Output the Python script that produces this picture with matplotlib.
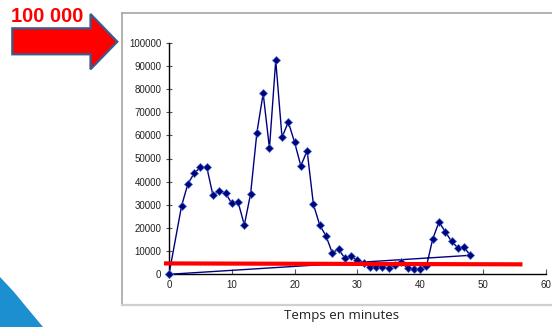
import matplotlib
matplotlib.use("Agg")
import matplotlib.pyplot as plt
from matplotlib.patches import Polygon

# Data
minutes = [0, 2, 3, 4, 5, 6, 7, 8, 9, 10, 11, 12, 13, 14, 15, 16, 17, 18, 19, 20,
           21, 22, 23, 24, 25, 26, 27, 28, 29, 30, 31, 32, 33, 34, 35, 36, 37, 38,
           39, 40, 41, 42, 43, 44, 45, 46, 47, 48, 0]
counts = [0, 29500, 39000, 43600, 46200, 46500, 34100, 36100, 35100, 30600, 31200,
          21300, 34800, 61200, 78100, 54400, 92400, 59100, 65800, 57000, 46800,
          53400, 30200, 21300, 16600, 9300, 10800, 7000, 7800, 6000, 4700, 3300,
          3300, 3000, 2900, 3900, 5200, 2600, 2100, 2100, 3400, 15200, 22600, 18400,
          14200, 11500, 11600, 8200, 0]
threshold_x = [-0.8, 56.3]
threshold_y = [4700, 4300]
y_ticks = [0, 10000, 20000, 30000, 40000, 50000, 60000, 70000, 80000, 90000, 100000]
x_ticks = [0, 10, 20, 30, 40, 50, 60]
x_label = "Temps en minutes"
callout = "100 000"

W, H = 552, 327
fig = plt.figure(figsize=(W / 100, H / 100), dpi=100)

def fx(px):
    return px / W

def fy(py):
    return 1 - py / H

# chart area border (top, left, bottom)
fig.add_artist(plt.Line2D([fx(122.5), fx(552)], [fy(13.3), fy(13.3)], color="#a6a6a6", lw=1.2))
fig.add_artist(plt.Line2D([fx(122.5), fx(122.5)], [fy(13.3), fy(305)], color="#a6a6a6", lw=1.2))
fig.add_artist(plt.Line2D([fx(122.5), fx(552)], [fy(305), fy(305)], color="#cfcfcf", lw=1.6))

# blue decoration bottom-left
fig.add_artist(Polygon([(fx(0), fy(277)), (fx(14), fy(292)), (fx(28), fy(309)),
                        (fx(43), fy(327)), (fx(0), fy(327))], closed=True,
                       facecolor="#1b8fd0", edgecolor="none", transform=fig.transFigure))

left, right = 169, 545.7
bottom, top = 274.3, 42.7
ax = fig.add_axes([fx(left), fy(bottom), (right - left) / W, (bottom - top) / H])
ax.set_xlim(0, 60)
ax.set_ylim(0, 100000)

ax.plot(minutes, counts, color="#000080", lw=1.0, marker="D", markersize=4.2,
        markerfacecolor="#000080", markeredgecolor="#3f6fc0", markeredgewidth=0.5,
        clip_on=False, zorder=3)
ax.plot(threshold_x, threshold_y, color="#ff0000", lw=3, clip_on=False, zorder=4,
        solid_capstyle="butt")

for s in ["top", "right"]:
    ax.spines[s].set_visible(False)
ax.spines["left"].set_linewidth(1.0)
ax.spines["bottom"].set_linewidth(1.0)
ax.set_yticks(y_ticks)
ax.set_yticklabels([str(v) for v in y_ticks])
ax.set_xticks(x_ticks)
ax.set_xticklabels([str(v) for v in x_ticks])
ax.tick_params(axis="y", direction="inout", length=5, width=0.8, color="#555555",
               labelsize=7, pad=3, labelcolor="#222222")
ax.tick_params(axis="x", direction="in", length=3.5, width=0.8, color="#555555",
               labelsize=7, pad=4, labelcolor="#222222")
for lbl in ax.get_xticklabels() + ax.get_yticklabels():
    lbl.set_fontfamily("Liberation Sans")

fig.text(fx(341.5), fy(316), x_label, ha="center", va="center", fontsize=9.5,
         family="Open Sans", color="#222222")

# red arrow
arrow_pts = [(12.3, 28.3), (90.5, 28.3), (90.5, 14), (117.3, 41.7), (90.5, 69.3),
             (90.5, 54.3), (12.3, 54.3)]
fig.add_artist(Polygon([(fx(x), fy(y)) for x, y in arrow_pts], closed=True,
                       facecolor="#ff0000", edgecolor="#3b5b8c", lw=1.6,
                       transform=fig.transFigure, joinstyle="miter"))
fig.text(fx(47.5), fy(17), callout, ha="center", va="center", fontsize=14.5,
         fontweight="bold", family="Liberation Sans", color="#ff0000")

fig.savefig("out.png", dpi=100)
